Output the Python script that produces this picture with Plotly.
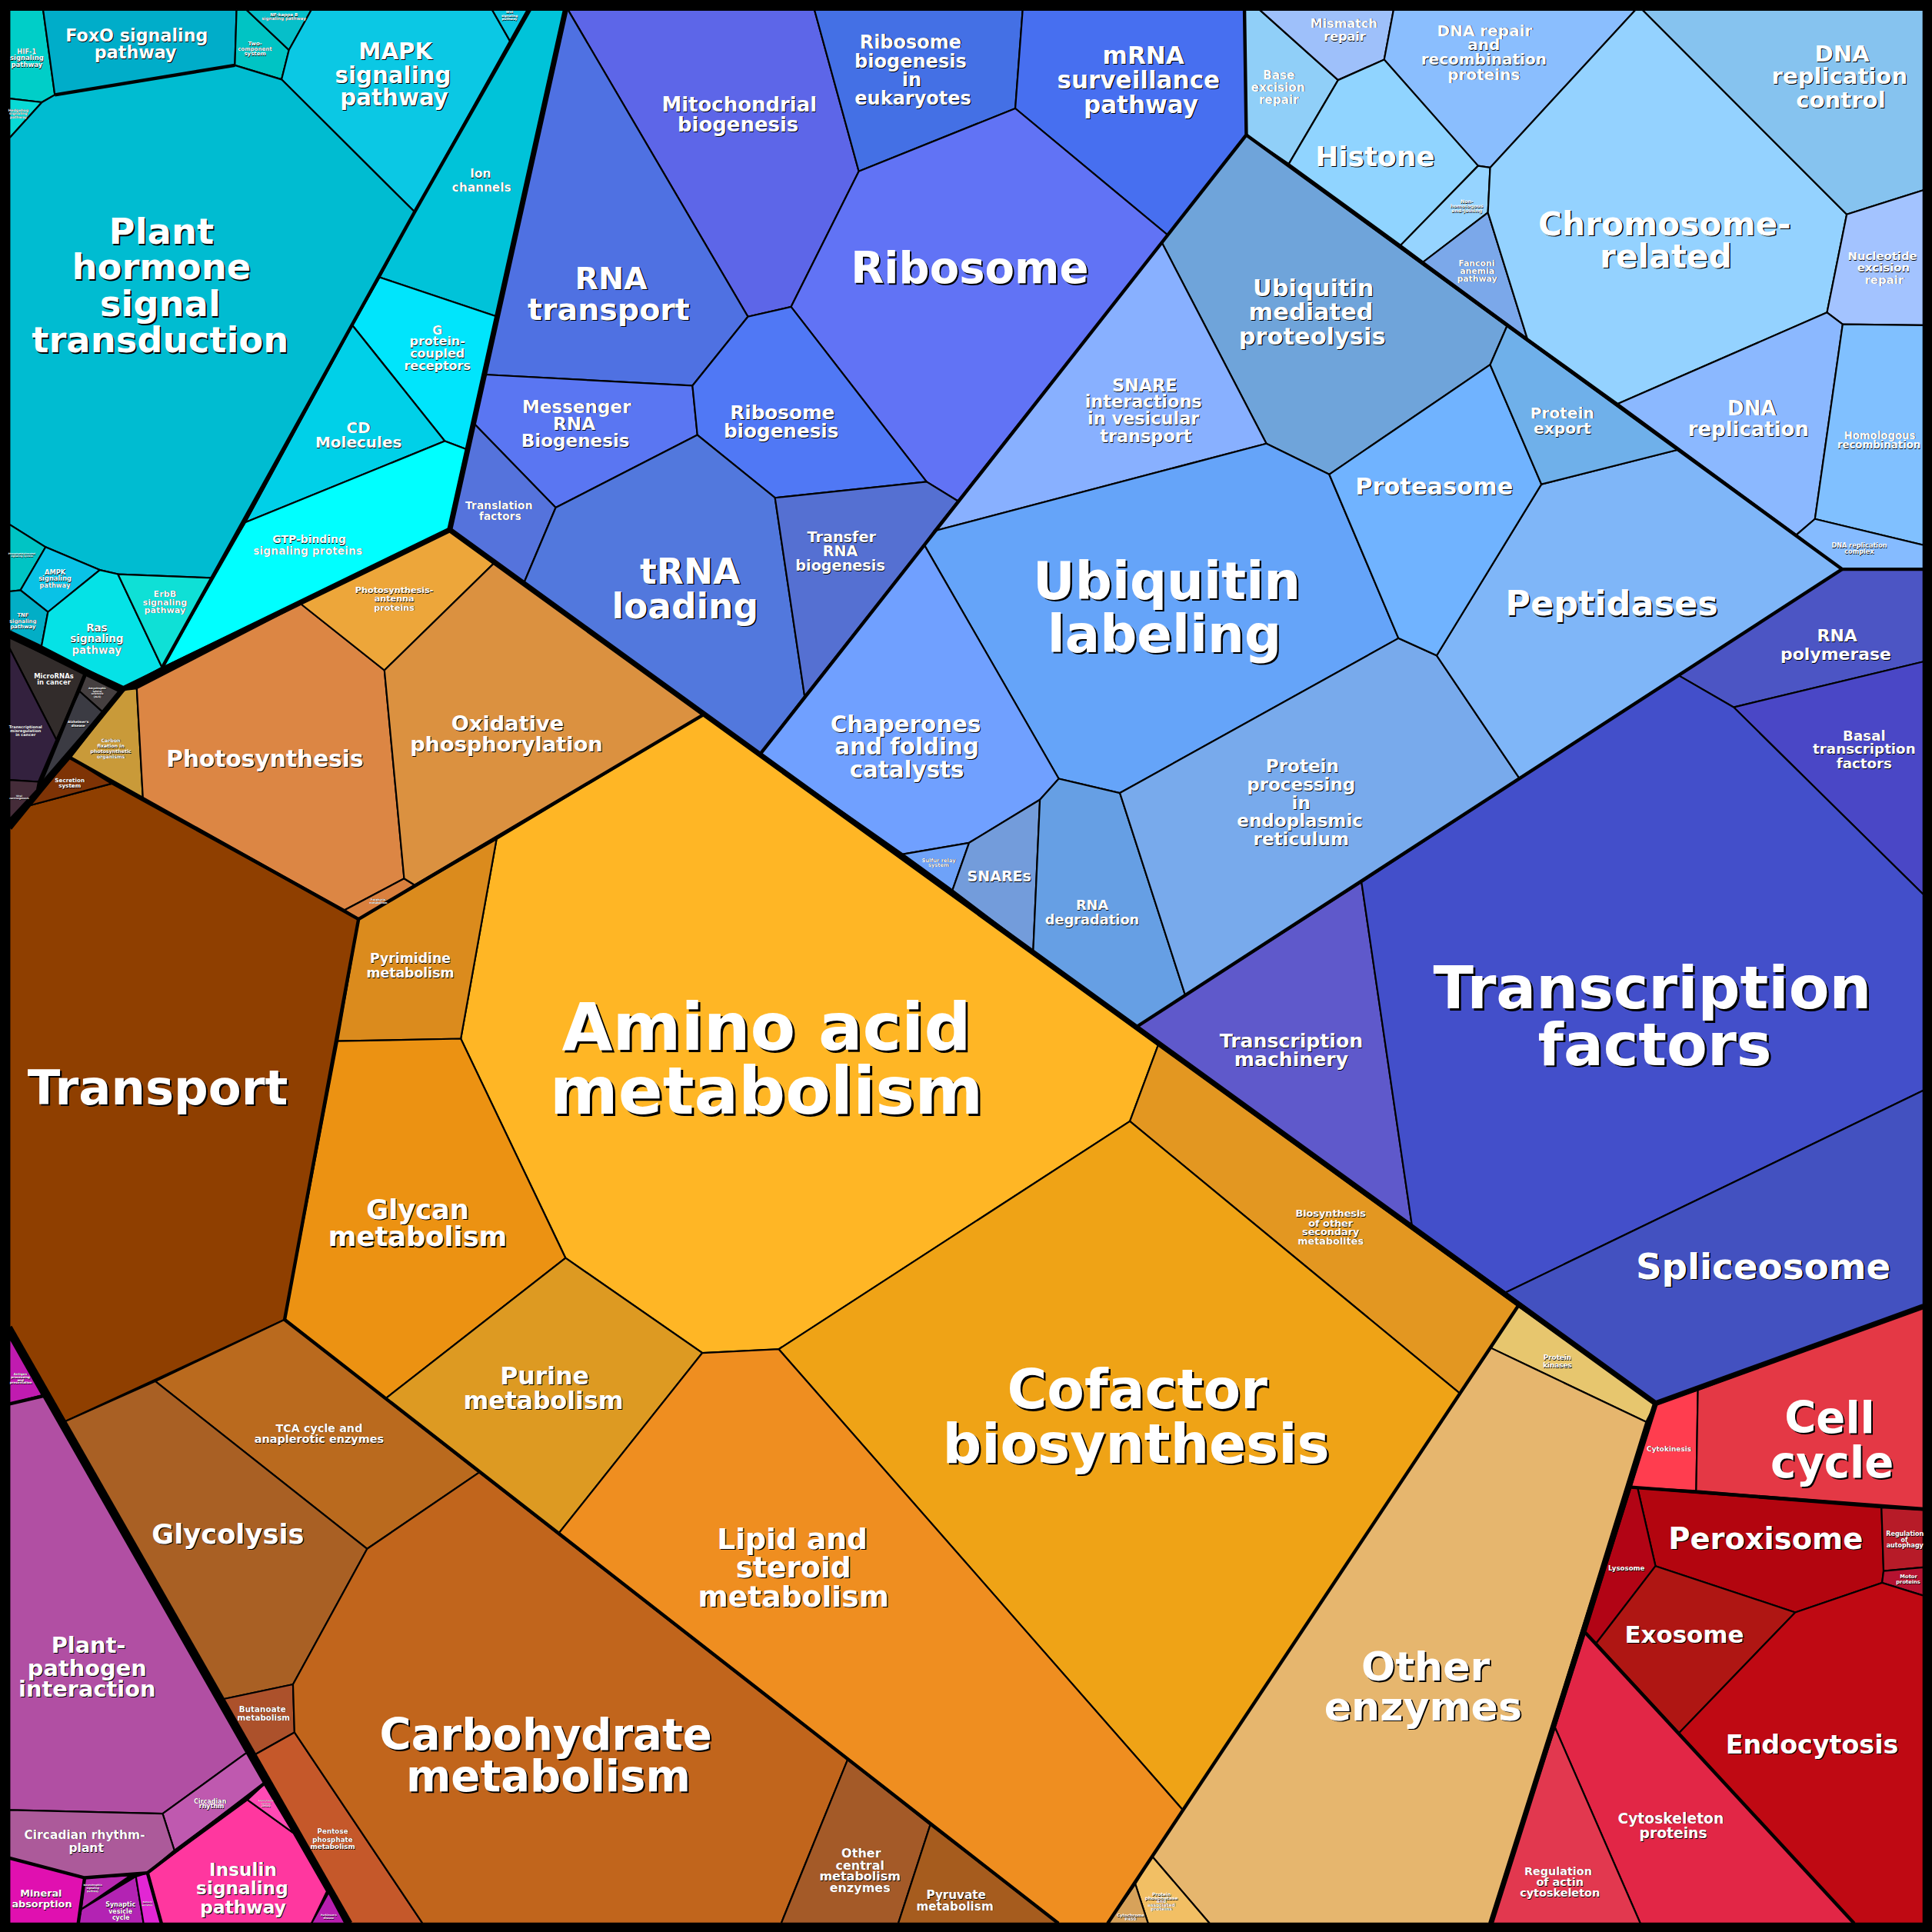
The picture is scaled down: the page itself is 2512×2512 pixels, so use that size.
import plotly.graph_objects as go

L, R = 7.7, 1561

cell_polygons = {
 # signalling (cyan)
 "Ion channels": [(430,8),(459,8),(403.5,257),(308,225),(336.5,172)],
 "G protein-coupled receptors": [(286,264),(308,225),(403.5,257),(379.5,365),(361,358)],
 "CD Molecules": [(286,264),(361,358),(199,424)],
 "GTP-binding signaling proteins": [(199,424),(361,358),(379.5,365),(365,430),(131.5,542)],
 "HIF-1 signaling pathway": [(L,8),(35,8),(44.5,77),(34,83),(L,80)],
 "Hedgehog signaling pathway": [(L,80),(34,83),(L,112)],
 "FoxO signaling pathway": [(35,8),(192,8),(190.6,53),(44.5,77)],
 "Two-component system": [(192,8),(200,8),(234.5,40.6),(228.5,64.5),(190.6,53)],
 "NF-kappa B signaling pathway": [(200,8),(252.7,8),(234.5,40.6)],
 "MAPK signaling pathway": [(252.7,8),(399.4,8),(413.9,33.3),(336.5,172),(228.5,64.5),(234.5,40.6)],
 "Wnt signaling pathway": [(399.4,8),(428,8),(413.9,33.3)],
 "Plant hormone signal transduction": [(L,112),(34,83),(44.5,77),(190.6,53),(228.5,64.5),(336.5,172),(308,225),(286,264),(199,424),(171.7,469),(95.7,466),(81,462.6),(37,444),(L,425.6)],
 "Phosphatidylinositol signaling system": [(L,425.6),(37,444),(16.6,479),(L,480)],
 "AMPK signaling pathway": [(37,444),(81,462.6),(38.9,496.7),(16.6,479)],
 "TNF signaling pathway": [(L,480),(16.6,479),(38.9,496.7),(33.7,524.4),(L,512)],
 "Ras signaling pathway": [(81,462.6),(95.7,466),(131.5,541.7),(100,558.7),(33.7,524.4),(38.9,496.7)],
 "ErbB signaling pathway": [(95.7,466),(171.7,469),(131.5,541.7)],
 # human diseases (dark)
 "MicroRNAs in cancer": [(L,517),(68.7,547.5),(45.8,600.5),(L,526)],
 "Amyotrophic lateral sclerosis": [(69.8,548),(97.8,561.8),(83.2,577.8),(64.5,561)],
 "Alzheimer's disease": [(64.5,561),(83.2,577.8),(33,636),(45.8,600.5)],
 "Transcriptional misregulation in cancer": [(L,526),(45.8,600.5),(31.2,634.5),(L,633)],
 "Viral carcinogenesis": [(L,633),(31.2,634.5),(30,641),(L,665)],
 # metabolism and energy (orange)
 "Transport": [(L,672),(23,654),(90.5,636),(291,746),(274,845),(231,1071),(52,1154),(L,1077)],
 "Secretion system": [(23,654),(57,615),(90.5,636)],
 "Carbon fixation in photosynthetic organisms": [(100,560),(111,558.7),(116,648),(57,615)],
 "Photosynthesis": [(111,558.7),(244,490),(312,544),(328,713),(279.7,738.6),(116,648)],
 "Porphyrin metabolism": [(279.7,738.6),(328,713),(336.5,718.3),(291,746)],
 "Photosynthesis-antenna proteins": [(244,490),(365,430),(401,457),(312,544)],
 "Oxidative phosphorylation": [(312,544),(401,457),(571,580),(336.5,718.3),(328,713)],
 "Amino acid metabolism": [(403,681),(571,580),(940,848),(917,910),(632,1095),(570,1098),(459,1021),(374,843)],
 "Pyrimidine metabolism": [(403,681),(374,843),(274,845),(291,746)],
 "Glycan metabolism": [(274,845),(374,843),(459,1021),(313,1135),(231,1071)],
 "Purine metabolism": [(459,1021),(570,1098),(453,1245),(313,1135)],
 "Biosynthesis of other secondary metabolites": [(940,848),(1232,1060),(1185,1131),(917,910)],
 "Cofactor biosynthesis": [(917,910),(1185,1131),(960,1469),(632,1095)],
 "Lipid and steroid metabolism": [(570,1098),(632,1095),(960,1469),(899,1561),(859,1561),(453,1245)],
 "TCA cycle and anaplerotic enzymes": [(231,1071),(389,1195),(298,1257),(126,1121)],
 "Glycolysis": [(126,1121),(298,1257),(237.8,1367),(181,1379),(52,1154)],
 "Butanoate metabolism": [(181,1379),(237.8,1367),(239,1406),(207,1424)],
 "Pentose phosphate metabolism": [(207,1424),(239,1406),(343,1561),(284,1561)],
 "Carbohydrate metabolism": [(298,1257),(389,1195),(688,1428),(634,1561),(343,1561),(239,1406),(237.8,1367)],
 "Other central metabolism enzymes": [(688,1428),(755,1481),(729,1561),(634,1561)],
 "Pyruvate metabolism": [(755,1481),(859,1561),(729,1561)],
 "Protein kinases": [(1232,1060),(1343.6,1139),(1336,1154),(1210,1094)],
 "Other enzymes": [(1210,1094),(1336,1154),(1210,1561),(981.7,1561),(935,1506.5)],
 "Protein phosphatases and associated proteins": [(935,1506.5),(981.7,1561),(931.8,1561),(921.4,1529)],
 "Cytochrome P450": [(921.4,1529),(931.8,1561),(899,1561)],
 # organismal systems (purple)
 "Antigen processing and presentation": [(L,1085.5),(34.3,1132.4),(L,1139.4)],
 "Plant-pathogen interaction": [(L,1139.4),(35,1133),(200,1422.6),(132,1472),(L,1469)],
 "Circadian rhythm": [(200,1422.6),(214.4,1447.6),(141.5,1501.7),(132,1472)],
 "Circadian rhythm-plant": [(L,1469),(132,1472),(141.5,1501.7),(119.7,1519.8),(68.7,1523.8),(L,1508)],
 "Mineral absorption": [(L,1508),(68.7,1523.8),(63.5,1561),(L,1561)],
 "Neurotrophin signaling pathway": [(68.7,1524),(106,1522),(66,1549.6)],
 "Synaptic vesicle cycle": [(66,1549.6),(110.3,1523),(116.5,1561),(63.5,1561)],
 "Salivary secretion": [(110.3,1523),(119.7,1520),(131,1561),(116.5,1561)],
 "Insulin signaling pathway": [(119.7,1520),(200.8,1460.7),(238.2,1487.7),(265.3,1535),(252.8,1561),(131,1561)],
 "Adipocytokine signaling pathway": [(200.8,1460.7),(214.4,1448),(238.2,1487.7)],
 "Parkinson's disease": [(266.7,1536),(280,1561),(252.8,1561)],
 # cell processes (red)
 "Cytokinesis": [(1343.6,1139),(1378,1128),(1376.6,1210),(1323.6,1207)],
 "Cell cycle": [(1378,1128),(R,1060.3),(R,1224.7),(1376.6,1210)],
 "Peroxisome": [(1329,1207.6),(1527,1223.6),(1528.7,1275),(1527.5,1284.6),(1457,1308.6),(1343.6,1271)],
 "Regulation of autophagy": [(1527,1223.6),(R,1225.5),(R,1272),(1528.7,1275)],
 "Motor proteins": [(1528.7,1275),(R,1272),(R,1295),(1527.5,1284.6)],
 "Lysosome": [(1323.6,1207),(1329,1207.6),(1343.6,1271),(1295.5,1333.6),(1286.6,1325)],
 "Exosome": [(1343.6,1271),(1457,1308.6),(1362.7,1406.5),(1295.5,1333.6)],
 "Endocytosis": [(1457,1308.6),(1527.5,1284.6),(R,1295),(R,1561),(1504.8,1561),(1362.7,1406.5)],
 "Cytoskeleton proteins": [(1286.6,1325),(1504.8,1561),(1331.3,1561),(1262,1402)],
 "Regulation of actin cytoskeleton": [(1262,1402),(1331.3,1561),(1210,1561)],
 # genetic information (blue)
 "Mitochondrial biogenesis": [(461,8),(661,8),(697,139),(642,249),(607,257)],
 "Ribosome biogenesis in eukaryotes": [(661,8),(830,8),(824,88),(697,139)],
 "mRNA surveillance pathway": [(830,8),(1010,8),(1011.5,109.5),(948,191),(824,88)],
 "Ribosome": [(697,139),(824,88),(948,191),(778,407),(752,391),(642,249)],
 "RNA transport": [(459,8),(461,8),(607,257),(562,313),(393,304)],
 "Messenger RNA Biogenesis": [(393,304),(562,313),(566,353),(451,412),(384,343)],
 "Ribosome biogenesis": [(607,257),(642,249),(752,391),(629,404),(566,353),(562,313)],
 "Translation factors": [(384,343),(451,412),(425,473.6),(365,430)],
 "tRNA loading": [(451,412),(566,353),(629,404),(653,565),(617,612),(425,473.6)],
 "Transfer RNA biogenesis": [(629,404),(752,391),(778,407),(653,565)],
 "Ubiquitin mediated proteolysis": [(1011.5,109.5),(1223,264.8),(1209.4,296),(1078.8,385),(1027.8,360),(943,197)],
 "SNARE interactions in vesicular transport": [(943,197),(1027.8,360),(758,431)],
 "Ubiquitin labeling": [(1027.8,360),(1078.8,385),(1135,518),(908.9,643.6),(859.3,632),(750,442),(758,431)],
 "Chaperones and folding catalysts": [(750,442),(859.3,632),(844,649),(786.5,684),(732.8,693.3),(617,612)],
 "Sulfur relay system": [(732.8,693.3),(786.5,684),(773,722.4)],
 "SNAREs": [(786.5,684),(844,649),(838.5,772),(773,722.4)],
 "RNA degradation": [(844,649),(859.3,632),(908.9,643.6),(962,808),(923,833),(838.5,772)],
 "Protein processing in endoplasmic reticulum": [(908.9,643.6),(1135,518),(1166,532),(1233,631.5),(962,808)],
 "Peptidases": [(1251,393),(1361.8,365),(1495,462),(1233,631.5),(1166,532)],
 "Proteasome": [(1209.4,296),(1251,393),(1166,532),(1135,518),(1078.8,385)],
 "Protein export": [(1223,264.8),(1361.8,365),(1251,393),(1209.4,296)],
 "Base excision repair": [(1010,8),(1022.4,8),(1086,65),(1046,133),(1011.5,109.5)],
 "Mismatch repair": [(1022.4,8),(1131,8),(1123.4,48.4),(1086,65)],
 "DNA repair and recombination proteins": [(1131,8),(1327.4,8),(1209.4,136),(1199.6,134.6),(1123.4,48.4)],
 "Histone": [(1086,65),(1123.4,48.4),(1199.6,134.6),(1136.8,199),(1046,133)],
 "Non-homologous end-joining": [(1199.6,134.6),(1209.4,136),(1207.6,172.5),(1155,212.7),(1136.8,199)],
 "Fanconi anemia pathway": [(1207.6,172.5),(1239.5,274.7),(1155,212.7)],
 "Chromosome-related": [(1327.4,8),(1333,8),(1498.8,174),(1482.8,253.6),(1313,327.7),(1239.5,274.7),(1207.6,172.5),(1209.4,136)],
 "DNA replication control": [(1333,8),(R,8),(R,154.3),(1498.8,174)],
 "Nucleotide excision repair": [(1498.8,174),(R,154.3),(R,264),(1495.5,263.2),(1482.8,253.6)],
 "DNA replication": [(1313,327.7),(1482.8,253.6),(1495.5,263.2),(1473,421.2),(1458,434)],
 "Homologous recombination": [(1495.5,263.2),(R,264),(R,442.4),(1473,421.2)],
 "DNA replication complex": [(1473,421.2),(R,442.4),(R,462),(1495,462),(1458,434)],
 "RNA polymerase": [(1495,462),(R,462),(R,537),(1407,574),(1362,548)],
 "Basal transcription factors": [(1407,574),(R,537),(R,726)],
 "Transcription machinery": [(1105,716),(1146,995),(940,848),(923,833)],
 "Transcription factors": [(1362,548),(1407,574),(R,726),(R,885),(1222,1049),(1146,995),(1105,716)],
 "Spliceosome": [(1222,1049),(R,885),(R,1060.3),(1343.6,1139)],
}

cell_colors = {
 "Ion channels":"#00C3D9","G protein-coupled receptors":"#00E5FC","CD Molecules":"#00D0E8","GTP-binding signaling proteins":"#00FFFF",
 "HIF-1 signaling pathway":"#00CEC8","Hedgehog signaling pathway":"#08DAD6","FoxO signaling pathway":"#00ADC9","Two-component system":"#00C4C4",
 "NF-kappa B signaling pathway":"#06BFC9","MAPK signaling pathway":"#0BC8E4","Wnt signaling pathway":"#08C5E0","Plant hormone signal transduction":"#00BCD1",
 "Phosphatidylinositol signaling system":"#00C4C4","AMPK signaling pathway":"#09C2E6","TNF signaling pathway":"#02AEC6","Ras signaling pathway":"#05E2E6","ErbB signaling pathway":"#0FE0D6",
 "MicroRNAs in cancer":"#322C2B","Amyotrophic lateral sclerosis":"#453F40","Alzheimer's disease":"#3B3B43","Transcriptional misregulation in cancer":"#33213E","Viral carcinogenesis":"#452C39",
 "Transport":"#8F3F00","Secretion system":"#7E3305","Carbon fixation in photosynthetic organisms":"#C99A39","Photosynthesis":"#DC8644","Porphyrin metabolism":"#D9803E",
 "Photosynthesis-antenna proteins":"#EDA63A","Oxidative phosphorylation":"#DB9140","Amino acid metabolism":"#FFB625","Pyrimidine metabolism":"#DB8B1D","Glycan metabolism":"#EC9212",
 "Purine metabolism":"#DD9A22","Biosynthesis of other secondary metabolites":"#E39721","Cofactor biosynthesis":"#EFA316","Lipid and steroid metabolism":"#EF8E20",
 "TCA cycle and anaplerotic enzymes":"#BA6A1E","Glycolysis":"#A96024","Butanoate metabolism":"#AC512B","Pentose phosphate metabolism":"#C5582A","Carbohydrate metabolism":"#C1651C",
 "Other central metabolism enzymes":"#A45A28","Pyruvate metabolism":"#A65C1E","Protein kinases":"#E7C66E","Other enzymes":"#E6B66E","Protein phosphatases and associated proteins":"#F2BF64","Cytochrome P450":"#D7A25A",
 "Antigen processing and presentation":"#C01BB0","Plant-pathogen interaction":"#B14FA3","Circadian rhythm":"#BF59AF","Circadian rhythm-plant":"#AC5A9A","Mineral absorption":"#E010B0",
 "Neurotrophin signaling pathway":"#B829B0","Synaptic vesicle cycle":"#B323B3","Salivary secretion":"#E226D4","Insulin signaling pathway":"#FF379F","Adipocytokine signaling pathway":"#FF4AB4","Parkinson's disease":"#B81FB0",
 "Cytokinesis":"#FF3D4F","Cell cycle":"#E43845","Peroxisome":"#B3050F","Regulation of autophagy":"#B71B28","Motor proteins":"#B51230","Lysosome":"#B20415","Exosome":"#AF1613","Endocytosis":"#BF0913",
 "Cytoskeleton proteins":"#E22646","Regulation of actin cytoskeleton":"#E2384F",
 "Mitochondrial biogenesis":"#5D66E8","Ribosome biogenesis in eukaryotes":"#4470E5","mRNA surveillance pathway":"#476FF0","Ribosome":"#6173F5","RNA transport":"#4F71E2","Messenger RNA Biogenesis":"#5A76F2",
 "Ribosome biogenesis":"#5078F5","Translation factors":"#5573DC","tRNA loading":"#5278DD","Transfer RNA biogenesis":"#5570D2",
 "Ubiquitin mediated proteolysis":"#6FA4DA","SNARE interactions in vesicular transport":"#88B0FF","Ubiquitin labeling":"#65A4F9","Chaperones and folding catalysts":"#70A0FF","Sulfur relay system":"#6EA2F8","SNAREs":"#739CDB",
 "RNA degradation":"#669FE4","Protein processing in endoplasmic reticulum":"#78AAEC","Peptidases":"#7FB6F8","Proteasome":"#70B3FF","Protein export":"#6FB0EA",
 "Base excision repair":"#90CFF8","Mismatch repair":"#9EC0FA","DNA repair and recombination proteins":"#8ABEFE","Histone":"#90D4FF","Non-homologous end-joining":"#96D4FF","Fanconi anemia pathway":"#7BA8EA",
 "Chromosome-related":"#94D2FF","DNA replication control":"#86C3EF","Nucleotide excision repair":"#A3C3FF","DNA replication":"#8BB8FF","Homologous recombination":"#80C0FF","DNA replication complex":"#85BBFF",
 "RNA polymerase":"#4C55C4","Basal transcription factors":"#4A47C6","Transcription machinery":"#5F59CB","Transcription factors":"#434FCA","Spliceosome":"#4351C0",
}

major_borders = [
 [(459,8),(365,430),(1343.6,1139),(1210,1561)],
 [(1343.6,1139),(R,1060.3)],
 [(365,430),(100,559),(L,516)],
 [(100,559),(L,672)],
 [(L,1077),(284,1561)],
]
group_borders = [
 [(1010,8),(1011.5,109.5),(617,612)],
 [(1011.5,109.5),(1495,462),(R,462)],
 [(1495,462),(923,833)],
 [(571,580),(291,746),(231,1071),(859,1561)],
 [(57,615),(291,746)],
 [(1232,1060),(899,1561)],
 [(430,8),(336.5,172),(131.5,542)],
 [(1323.6,1207),(R,1224.7)],
 [(1286.6,1325),(1504.8,1561)],
 [(69,547),(31,640)],
 [(214.4,1447.6),(119.7,1520),(131,1561)],
 [(L,1508),(68.7,1524),(119.7,1520)],
 [(68.7,1524),(63.5,1561)],
 [(35,1133),(L,1139.4)],
 [(44.5,77),(190.6,53)],
]

# each row: one printed line of a cell label (text, x, y, font height)
label_rows = [
 ("Amino acid",622,834,53.3),("metabolism",622,886,53.3),
 ("Transcription",1341,802,48),("factors",1343,848,48),
 ("Transport",128,883,39),
 ("Cofactor",923,1128,44.2),("biosynthesis",922,1172,44.2),
 ("Carbohydrate",443,1408,35),("metabolism",445,1442,35),
 ("Ubiquitin",947,472,42),("labeling",945,515,42),
 ("Ribosome",787,218,35),
 ("Plant",131,188,29),("hormone",131,217,29),("signal",130,247,29),("transduction",130,276,29),
 ("Photosynthesis",215,616,18.5),
 ("Oxidative",412,587,17),("phosphorylation",411,604,17),
 ("Pyrimidine",333,778,10.8),("metabolism",333,790,10.8),
 ("Glycan",339,982,22),("metabolism",339,1004,22),
 ("Purine",442,1117,19.7),("metabolism",441,1137,19.7),
 ("Biosynthesis",1080,985,8),("of other",1080,993,8),("secondary",1080,1000,8),("metabolites",1080,1007,8),
 ("Lipid and",643,1249,23.5),("steroid",644,1272,23.5),("metabolism",644,1296,23.5),
 ("TCA cycle and",259,1159,9),("anaplerotic enzymes",259,1168,9),
 ("Glycolysis",185,1245,22),
 ("Butanoate",213,1387,6.5),("metabolism",214,1394,6.5),
 ("Pentose",270,1486,5.5),("phosphate",270,1493,5.5),("metabolism",270,1499,5.5),
 ("Other",699,1504,10),("central",698,1514,10),("metabolism",698,1523,10),("enzymes",698,1532,10),
 ("Pyruvate",776,1538,9.5),("metabolism",775,1547,9.5),
 ("Other",1157,1353,32.5),("enzymes",1155,1385,32.5),
 ("Protein",1264,1102,5.5),("kinases",1264,1108,5.5),
 ("Protein",942.6,1537.6,3.7),("phosphatase",942.6,1540.6,3.7),("and",942.6,1543,3.7),("associated",942.6,1546,3.7),("proteins",942.6,1549,3.7),
 ("Cytochrome",917.6,1554.6,3.3),("P450",917.6,1557.5,3.3),
 ("Photosynthesis-",320,479,7),("antenna",320,486,7),("proteins",320,493,7),
 ("Carbon",90,601,3.9),("fixation in",90,605.5,3.9),("photosynthetic",90,610,3.9),("organisms",90,614,3.9),
 ("Secretion",56.6,633,4.5),("system",56.6,637.7,4.5),
 ("Porphyrin",307,730,2.2),("metabolism",307,732.5,2.2),
 ("MicroRNAs",43.7,548.5,5.3),("in cancer",43.7,553.7,5.3),
 ("Amyotrophic",79,558.7,2),("lateral",79,561,2),("sclerosis",79,563,2),("(ALS)",79,565.4,2),
 ("Alzheimer's",63.5,586,2.6),("disease",63.5,589,2.6),
 ("Transcriptional",20.8,590,3.2),("misregulation",20.8,593,3.2),("in cancer",20.8,596,3.2),
 ("Viral",15.6,646,1.9),("carcinogenesis",15.6,648,1.9),
 ("Phosphatidylinositol",17.7,449.5,1.9),("signaling system",17.7,451.5,1.9),
 ("AMPK",44.7,464.6,5.2),("signaling",44.7,469.8,5.2),("pathway",44.7,475,5.2),
 ("TNF",18.7,499.4,4.3),("signaling",18.7,504,4.3),("pathway",18.7,508.7,4.3),
 ("Ras",78.6,509.7,8.4),("signaling",78.6,518.5,8.4),("pathway",78.6,527.5,8.4),
 ("ErbB",134,482,7),("signaling",134,488.6,7),("pathway",134,495,7),
 ("GTP-binding",251,438,8.7),("signaling proteins",250,447,8.7),
 ("CD",291,347,12.5),("Molecules",291,359,12.5),
 ("G",355,268,10),("protein-",355,277,10),("coupled",355,287,10),("receptors",355,297,10),
 ("Ion",390,141,9.6),("channels",391,152,9.6),
 ("MAPK",321,42,18.3),("signaling",319,61,18.3),("pathway",320,79,18.3),
 ("FoxO signaling",111,29,13.9),("pathway",110,43,13.9),
 ("HIF-1",21.8,41.6,5.3),("signaling",21.8,47.2,5.3),("pathway",21.8,52.6,5.3),
 ("Hedgehog",15,89.5,2.9),("signaling",15,91.8,2.9),("pathway",15,94.9,2.9),
 ("Two-",207,35.4,4.4),("component",207,39.5,4.4),("system",207,43.7,4.4),
 ("NF-kappa B",230.5,12,3.5),("signaling pathway",230.5,15,3.5),
 ("Wnt",413.6,10,2.6),("signaling",413.6,12.9,2.6),("pathway",413.6,15.6,2.6),
 ("Mitochondrial",600,85,16.2),("biogenesis",599,101,16.2),
 ("Ribosome",739,34,15),("biogenesis",739,50,15),("in",740,65,15),("eukaryotes",741,80,15),
 ("mRNA",928,45,19.4),("surveillance",924,65,19.4),("pathway",926,85,19.4),
 ("RNA",496,226,24.7),("transport",494,251,24.7),
 ("Messenger",468,330,14.4),("RNA",466,344,14.4),("Biogenesis",467,358,14.4),
 ("Ribosome",635,335,15.4),("biogenesis",634,350,15.4),
 ("Translation",405,410,8.7),("factors",406,419,8.7),
 ("tRNA",560,464,28.4),("loading",556,492,28.4),
 ("Transfer",683,436,12),("RNA",682,447,12),("biogenesis",682,459,12),
 ("Ubiquitin",1066,234,19),("mediated",1064,253,19),("proteolysis",1065,273,19),
 ("SNARE",929,313,14),("interactions",928,326,14),("in vesicular",928,340,14),("transport",930,354,14),
 ("Proteasome",1164,395,19),
 ("Protein",1268,335,12.6),("export",1268,348,12.6),
 ("Peptidases",1308,490,27.8),
 ("Chaperones",735,588,18.3),("and folding",736,606,18.3),("catalysts",736,625,18.3),
 ("Protein",1057,622,14.4),("processing",1056,637,14.4),("in",1056,652,14.4),("endoplasmic",1055,666,14.4),("reticulum",1056,681,14.4),
 ("RNA",886.4,734.6,11.1),("degradation",886.4,746.8,11.1),
 ("SNAREs",811,711.6,11.9),
 ("Sulfur relay",762,698,4.2),("system",762,702,4.2),
 ("DNA",1495,44,18.2),("replication",1493,62,18.2),("control",1494,81,18.2),
 ("Chromosome-",1351,182,26.4),("related",1352,208,26.4),
 ("Histone",1116,127,22.4),
 ("DNA repair",1205,24.8,12.5),("and",1204.3,36.6,12.5),("recombination",1204.3,48.4,12.5),("proteins",1204.3,60.5,12.5),
 ("Base",1038,61,9.5),("excision",1037.3,71,9.5),("repair",1038,81,9.5),
 ("Mismatch",1090.7,19,10),("repair",1091.4,29.7,10),
 ("Non-",1190.5,163.7,3.9),("homologous",1190.5,167.3,3.9),("end-joining",1190.5,171,3.9),
 ("Fanconi",1198.5,213.6,6.8),("anemia",1199,219.7,6.8),("pathway",1199,226,6.8),
 ("Nucleotide",1527.8,208,9.3),("excision",1528.6,217.2,9.3),("repair",1529.3,227,9.3),
 ("DNA",1421.8,331.3,16.2),("replication",1419,348.6,16.2),
 ("Homologous",1525.7,353.4,8.3),("recombination",1525,361.3,8.3),
 ("DNA replication",1509,443,5.1),("complex",1509,448,5.1),
 ("RNA",1491,516,13.7),("polymerase",1490,531,13.7),
 ("Basal",1513,597,11.4),("transcription",1513,608,11.4),("factors",1513,620,11.4),
 ("Transcription",1048,845,15.7),("machinery",1048,860,15.7),
 ("Spliceosome",1431,1028,29.2),
 ("Cell",1485,1151,35),("cycle",1487,1187,35),
 ("Cytokinesis",1354.6,1175.9,5.6),
 ("Peroxisome",1433,1249,24),
 ("Regulation",1546,1245,5),("of",1545.6,1249.7,5),("autophagy",1546,1254.3,5),
 ("Motor",1549,1279.5,4.2),("proteins",1548.7,1284,4.2),
 ("Lysosome",1320,1273,5.4),
 ("Exosome",1367,1327,19.3),
 ("Endocytosis",1470.7,1416,20.8),
 ("Cytoskeleton",1356,1475.9,11.7),("proteins",1358,1487.8,11.7),
 ("Regulation",1264.6,1518.6,9),("of actin",1266,1527.8,9),("cytoskeleton",1266,1536.5,9),
 ("Plant-",71.8,1335,18),("pathogen",70.7,1353.9,18),("interaction",70.7,1371,18),
 ("Circadian rhythm-",68.7,1489,9.7),("plant",70,1500,9.7),
 ("Circadian",170.6,1462,5),("rhythm",171.7,1466,5),
 ("Insulin",197.3,1517.2,14.5),("signaling",196.6,1532.4,14.5),("pathway",197.3,1548,14.5),
 ("Mineral",33.3,1536.6,8),("absorption",34,1545.4,8),
 ("Synaptic",97.8,1545.7,5),("vesicle",97.8,1551.2,5),("cycle",98.2,1556.3,5),
 ("Antigen",16.6,1115,2.5),("processing",16.6,1118,2.5),("and",16.6,1120.4,2.5),("presentation",17,1122.3,2.5),
 ("Neurotrophin",75.3,1530,2),("signaling",75.3,1532.5,2),("pathway",75.3,1534.8,2),
 ("Salivary",119.6,1544,1.7),("secretion",119.6,1546,1.7),
 ("Adipocytokine",215.8,1461.3,1.5),("signaling",215.8,1463.8,1.5),("pathway",215.8,1466,1.5),
 ("Parkinson's",266.8,1554.4,2),("disease",266.8,1557,2),
]

PX = 2512 / 1568
fig = go.Figure()

for name, poly in cell_polygons.items():
    xs = [p[0] for p in poly] + [poly[0][0]]
    ys = [p[1] for p in poly] + [poly[0][1]]
    fig.add_trace(go.Scatter(x=xs, y=ys, mode="lines", fill="toself", fillcolor=cell_colors[name],
                             line=dict(color="black", width=2.2), name=name, hoverinfo="name", showlegend=False))

for borders, width in ((group_borders, 4.4), (major_borders, 7)):
    for line in borders:
        fig.add_trace(go.Scatter(x=[p[0] for p in line], y=[p[1] for p in line], mode="lines",
                                 line=dict(color="black", width=width), hoverinfo="skip", showlegend=False))

sizes_px = [r[3] * PX for r in label_rows]
shadows = ["{0:.2f}px {0:.2f}px 0 #000".format(max(0.5, s * 0.035)) for s in sizes_px]
fig.add_trace(go.Scatter(
    x=[r[1] for r in label_rows], y=[r[2] + r[3] * 0.09 for r in label_rows], text=[r[0] for r in label_rows],
    mode="text", textposition="middle center", hoverinfo="skip", showlegend=False,
    textfont=dict(family="DejaVu Sans", weight=700, color="white", size=sizes_px, shadow=shadows),
    cliponaxis=False))

fig.update_layout(
    width=2512, height=2512, margin=dict(l=0, r=0, t=0, b=0),
    paper_bgcolor="black", plot_bgcolor="black",
    xaxis=dict(range=[0, 1568], visible=False, fixedrange=True),
    yaxis=dict(range=[1568, 0], visible=False, fixedrange=True),
)
fig.write_html("out.html", config={"displayModeBar": False},
               post_script="document.body.style.margin='0';document.body.style.background='black';")
